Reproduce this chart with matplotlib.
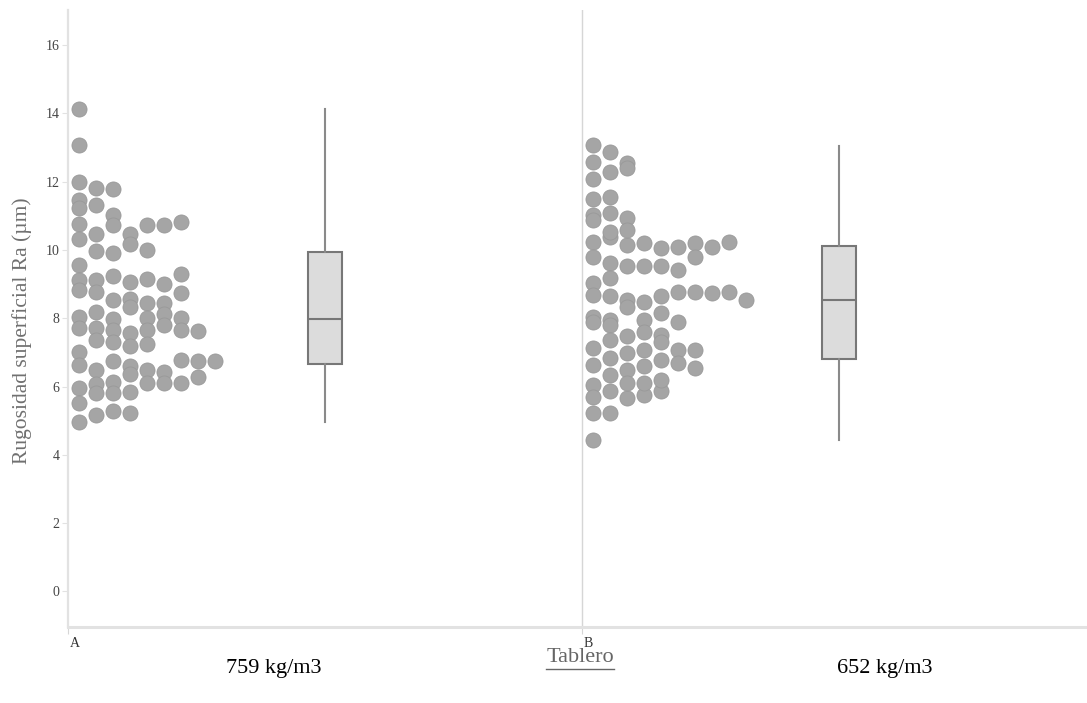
import numpy as np
import matplotlib.pyplot as plt
from matplotlib.lines import Line2D
from matplotlib.transforms import ScaledTranslation

plt.rcParams['font.family'] = ['Liberation Serif', 'DejaVu Serif']

# --- data (listed stack by stack) ---
groups = ['A', 'B']
densities = ['759 kg/m3', '652 kg/m3']

ra_a = [14.13, 13.09, 11.98, 11.46, 11.22, 10.76, 10.32, 9.56, 9.12, 8.82, 8.04, 7.73, 7.02, 6.63, 5.97, 5.52, 4.97,
        11.83, 11.33, 10.48, 9.98, 9.12, 8.78, 8.19, 7.73, 7.36, 6.48, 6.09, 5.80, 5.16,
        11.80, 11.02, 10.73, 9.92, 9.23, 8.55, 7.99, 7.65, 7.31, 6.74, 6.14, 5.80, 5.28,
        10.46, 10.19, 9.07, 8.58, 8.34, 7.57, 7.18, 6.60, 6.36, 5.85, 5.24,
        10.73, 10.00, 9.14, 8.45, 8.00, 7.67, 7.24, 6.48, 6.11,
        10.73, 9.00, 8.45, 8.14, 7.80, 6.43, 6.11,
        10.83, 9.31, 8.73, 8.02, 7.67, 6.77, 6.11,
        7.63, 6.75, 6.28,
        6.75]

ra_b = [13.08, 12.59, 12.07, 11.49, 11.03, 10.88, 10.25, 9.81, 9.03, 8.69, 8.03, 7.89, 7.12, 6.64, 6.05, 5.71, 5.22, 4.44,
        12.88, 12.54, 12.30, 11.56, 11.08, 10.39, 10.15, 9.61, 9.17, 8.64, 7.95, 7.81, 7.37, 6.83, 6.49, 5.86, 5.22,
        12.39, 10.93, 10.54, 10.20, 9.52, 8.54, 8.34, 7.47, 6.98, 6.59, 6.34, 5.66,
        10.59, 10.05, 9.52, 8.49, 7.95, 7.61, 7.08, 6.78, 6.10, 5.76,
        10.10, 9.52, 8.64, 8.15, 7.52, 7.32, 7.08, 6.69, 6.10, 5.86,
        10.20, 9.42, 8.78, 7.90, 7.08, 6.54, 6.20,
        10.10, 9.81, 8.78,
        10.25, 8.73,
        8.78,
        8.54]

# box summaries (min, q1, median, q3, max)
box_min = [4.97, 4.44]
box_q1 = [6.65, 6.81]
box_med = [7.99, 8.55]
box_q3 = [9.93, 10.13]
box_max = [14.12, 13.05]


def stack_columns(values, width=0.5, origin=0.4):
    # histodot: values in the same bin are stacked side by side
    counts = {}
    cols = []
    for v in values:
        k = int(np.floor((v - origin) / width))
        cols.append(counts.get(k, 0))
        counts[k] = counts.get(k, 0) + 1
    return np.array(cols)


W, H = 1087, 703
fig = plt.figure(figsize=(W / 100, H / 100), dpi=100)
ax = fig.add_axes([68 / W, 76 / H, 1019 / W, 617 / H])

px = 1 / 514  # data units per pixel along x (one band = 514 px)
for i, vals in enumerate([ra_a, ra_b]):
    cols = stack_columns(vals)
    x = i + 11 * px + cols * 17 * px
    ax.scatter(x, vals, s=118, color='#a5a5a5', edgecolors='#999999',
               linewidths=0.6, zorder=3)

stats = []
for i in range(len(groups)):
    stats.append(dict(whislo=box_min[i], q1=box_q1[i], med=box_med[i],
                      q3=box_q3[i], whishi=box_max[i], fliers=[]))
ax.bxp(stats, positions=[0.5, 1.5], widths=34 * px, patch_artist=True,
       showcaps=False, manage_ticks=False,
       boxprops=dict(facecolor='#dcdcdc', edgecolor='#777777', linewidth=1.5),
       medianprops=dict(color='#777777', linewidth=1.5),
       whiskerprops=dict(color='#8a8a8a', linewidth=1.5))

ax.axvline(1, color='#d6d6d6', lw=1, zorder=0)

ax.set_xlim(0, 1019 * px)
ax.set_ylim(-1.04, 17.03)
ax.set_yticks(range(0, 17, 2))
ax.set_xticks([0, 1])
ax.set_xticklabels(groups)

for s in ['top', 'right']:
    ax.spines[s].set_visible(False)
ax.spines['left'].set_color('#e2e2e2')
ax.spines['left'].set_linewidth(1.6)
ax.spines['bottom'].set_color('#e2e2e2')
ax.spines['bottom'].set_linewidth(2.2)

ax.tick_params(axis='y', length=4, width=0.8, color='#e2e2e2',
               labelcolor='#444444', labelsize=10, pad=2)
ax.tick_params(axis='x', length=5, width=0.8, color='#d6d6d6',
               labelcolor='#333333', labelsize=10, pad=2)
for lab in ax.get_xticklabels():
    lab.set_ha('left')
    lab.set_transform(lab.get_transform() + ScaledTranslation(2 / 100, 0, fig.dpi_scale_trans))

fig.text(22 / W, 1 - 331 / H, 'Rugosidad superficial Ra (µm)', rotation=90,
         ha='center', va='center', fontsize=15.5, color='#707070')

fig.text(274 / W, 1 - 668 / H, densities[0], ha='center', va='center', fontsize=16, color='black')
fig.text(885 / W, 1 - 668 / H, densities[1], ha='center', va='center', fontsize=16, color='black')
t = fig.text(580 / W, 1 - 658 / H, 'Tablero', ha='center', va='center', fontsize=16, color='#666666')

# underline for the axis title
fig.canvas.draw()
bb = t.get_window_extent()
y_line = (bb.y0 - 1) / H
fig.add_artist(Line2D([bb.x0 / W, bb.x1 / W], [y_line, y_line], color='#666666', lw=1))

fig.savefig('out.png', dpi=100)
